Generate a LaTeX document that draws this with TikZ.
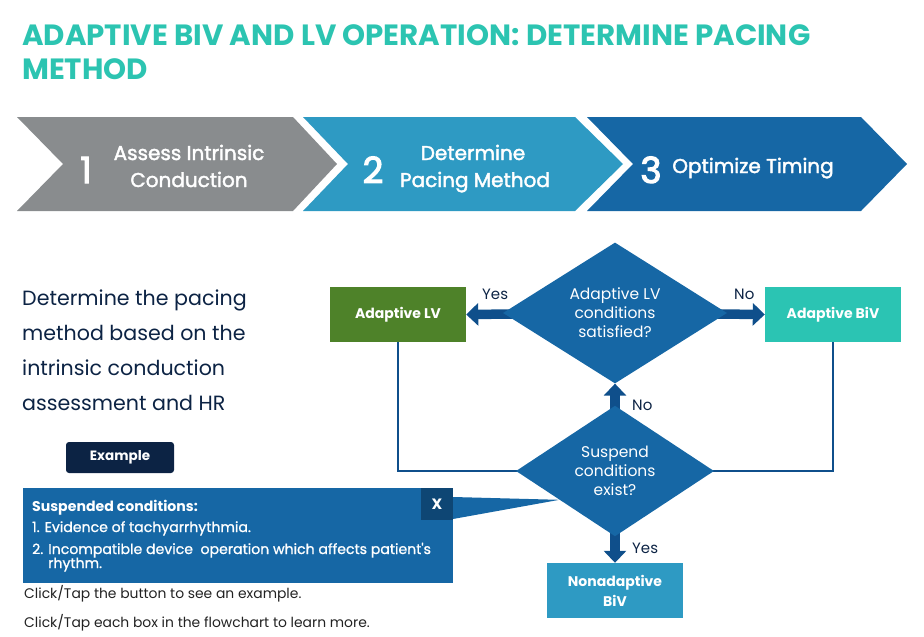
\documentclass[tikz,border=0pt]{standalone}
\usepackage{fontspec}
\setmainfont{Poppins}
\newfontfamily\popmed[FakeBold=2]{Poppins}
\newfontfamily\popnum[FakeBold=3]{Poppins}
\newfontfamily\poplt[FakeBold=1]{Poppins}
\usetikzlibrary{shapes.geometric,arrows.meta,backgrounds,calc}
\definecolor{titleteal}{HTML}{2CC4B1}
\definecolor{navy}{HTML}{0C2344}
\definecolor{cgray}{HTML}{898C8E}
\definecolor{cteal}{HTML}{2E9AC3}
\definecolor{cblue}{HTML}{1667A5}
\definecolor{xblue}{HTML}{0E4674}
\definecolor{arrowblue}{HTML}{0F4F8B}
\definecolor{lvgreen}{HTML}{4E8229}
\definecolor{bivteal}{HTML}{2BC4B3}
\definecolor{txtgray}{HTML}{222222}
\tikzset{
  txt/.style={inner sep=0pt, anchor=base west},
  ctxt/.style={inner sep=0pt, anchor=base},
  titletxt/.style={txt, text=titleteal, font=\fontsize{29.3}{33}\selectfont\bfseries},
  bodytxt/.style={txt, text=navy, font=\fontsize{20.6}{25}\selectfont},
  chevtxt/.style={ctxt, text=white, font=\popmed\fontsize{20}{24}\selectfont},
  chevnum/.style={ctxt, text=white, font=\popnum\fontsize{36}{40}\selectfont},
  decision/.style={diamond, fill=cblue, text=white, inner sep=0pt, align=center,
    font=\fontsize{15.5}{19}\selectfont},
  result/.style={rectangle, inner sep=0pt, minimum width=136pt, minimum height=55pt,
    text=white, align=center, font=\fontsize{14}{20}\selectfont\bfseries},
  flowlbl/.style={txt, text=navy, font=\fontsize{15}{17}\selectfont},
  bigarrow/.style={draw=arrowblue, line width=9.5pt, -{Triangle[length=12pt,width=22pt]}},
  loopline/.style={draw=arrowblue, line width=2.8pt},
  paneltxt/.style={txt, text=white, font=\poplt\fontsize{14.1}{16}\selectfont},
  note/.style={txt, text=txtgray, font=\fontsize{13.9}{16}\selectfont},
}
\begin{document}
\begin{tikzpicture}[x=1pt,y=-1pt]
\useasboundingbox (0,0) rectangle (924,637);
% title
\node[titletxt] (ttl1) at (22,45) {ADAPTIVE BIV AND LV OPERATION: DETERMINE PACING};
\node[titletxt] (ttl2) at (22,79) {METHOD};
% chevrons
\fill[cgray] (17,117) -- (293,117) -- (337,164) -- (293,211) -- (17,211) -- (63,164) -- cycle;
\fill[cteal] (303,117) -- (575,117) -- (623,164) -- (575,211) -- (303,211) -- (348,164) -- cycle;
\fill[cblue] (587,117) -- (861,117) -- (907,164) -- (861,211) -- (587,211) -- (633,164) -- cycle;
\node[chevnum] (n1) at (86,183) {1};
\node[chevtxt] (c1a) at (189,160) {Assess Intrinsic};
\node[chevtxt] (c1b) at (189,187) {Conduction};
\node[chevnum] (n2) at (373,183) {2};
\node[chevtxt] (c2a) at (473,160) {Determine};
\node[chevtxt] (c2b) at (475,187) {Pacing Method};
\node[chevnum] (n3) at (651,183) {3};
\node[chevtxt] (c3a) at (753,173) {Optimize Timing};
% body text
\node[bodytxt] (b1) at (22,305) {Determine the pacing};
\node[bodytxt] (b2) at (22,340) {method based on the};
\node[bodytxt] (b3) at (22,375) {intrinsic conduction};
\node[bodytxt] (b4) at (22,410) {assessment and HR};
% example button
\node[fill=navy, rounded corners=3pt, minimum width=108pt, minimum height=31pt, inner sep=0pt,
  text=white, font=\fontsize{13.5}{16}\selectfont\bfseries] (ex) at (120,457.5) {Example};
% flowchart
\node[decision, minimum width=224pt, minimum height=130pt] (d1) at (615,313)
  {Adaptive LV\\conditions\\satisfied?};
\node[decision, minimum width=198pt, minimum height=113pt] (d2) at (615,471)
  {Suspend\\conditions\\exist?};
\node[result, fill=lvgreen] (lv) at (398,314.5) {Adaptive LV};
\node[result, fill=bivteal] (biv) at (833,314.5) {Adaptive BiV};
\node[result, fill=cteal] (nbiv) at (615,590.5) {Nonadaptive\\BiV};
\begin{pgfonlayer}{background}
  \draw[loopline] (lv.south) |- (d2.center);
  \draw[loopline] (biv.south) |- (d2.center);
  \draw[bigarrow] (d1.center) -- (lv.east);
  \draw[bigarrow] (d1.center) -- (biv.west);
  \draw[bigarrow] (d2.center) -- (d1.south);
  \draw[bigarrow] (d2.center) -- (nbiv.north);
\end{pgfonlayer}
\node[flowlbl] (ly) at (482,299) {Yes};
\node[flowlbl] (rn) at (734,299) {No};
\node[flowlbl] (un) at (632,410) {No};
\node[flowlbl] (dy) at (632,553) {Yes};
% suspended conditions panel
\node[fill=cblue, minimum width=430pt, minimum height=95pt, inner sep=0pt, anchor=north west] (panel) at (23,488) {};
\coordinate (wtip) at ($(d2.west)!0.44!(d2.south)$);
\fill[cblue] (453,497) -- (wtip) -- (453,519) -- cycle;
\node[fill=xblue, minimum width=32pt, minimum height=32pt, inner sep=0pt, text=white,
  font=\fontsize{15}{18}\selectfont\bfseries] (xbtn) at (437,504) {X};
\node[paneltxt, font=\fontsize{14.1}{16}\selectfont\bfseries] (p0) at (32,511) {Suspended conditions:};
\node[paneltxt] (p1) at (32,532) {1. Evidence of tachyarrhythmia.};
\node[paneltxt] (p2) at (32,554) {2. Incompatible device\ \ operation which affects {\addfontfeature{Ligatures=TeXOff}patient's}};
\node[paneltxt] (p3) at (48,568) {rhythm.};
% notes
\node[note] (nt1) at (24,598) {Click/Tap the button to see an example.};
\node[note] (nt2) at (24,627) {Click/Tap each box in the flowchart to learn more.};
\end{tikzpicture}
\end{document}
